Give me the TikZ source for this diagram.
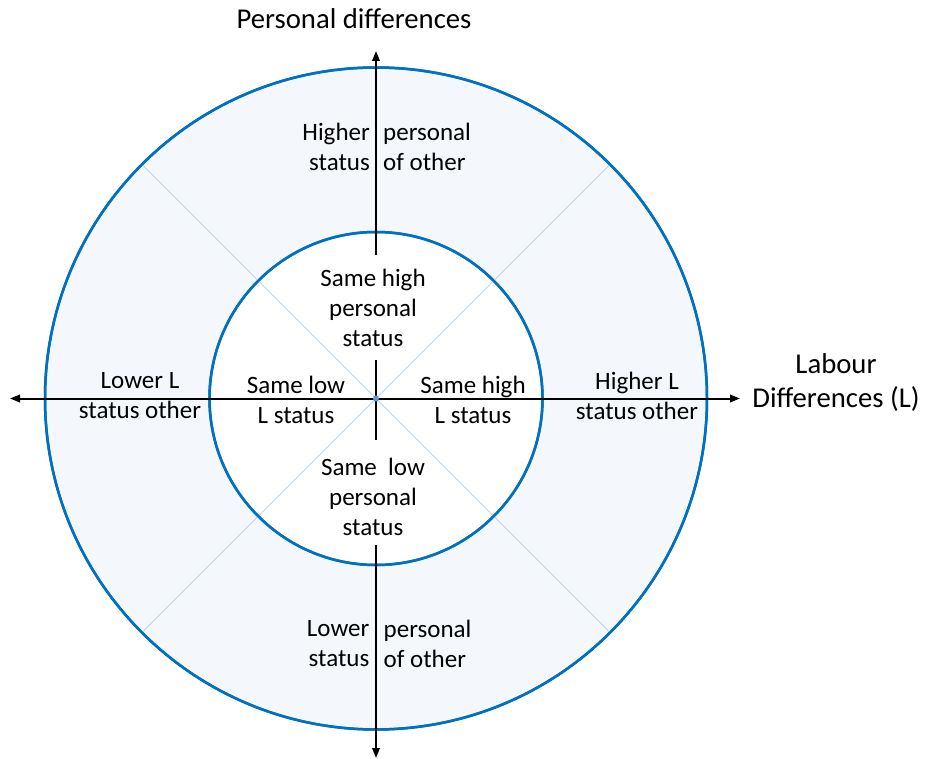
\documentclass[tikz,border=0pt]{standalone}
\usepackage{fontspec}
\setmainfont{Carlito}
\usetikzlibrary{arrows.meta}
\definecolor{ringblue}{HTML}{0070C0}
\definecolor{ringfill}{HTML}{F4F8FC}
\definecolor{diagblue}{HTML}{BDD7EE}
\definecolor{dotblue}{HTML}{5B9BD5}
\begin{document}
\begin{tikzpicture}[x=1pt,y=-1pt,
  lbl/.style={font=\fontsize{25}{30}\selectfont, align=center, inner sep=0pt, text=black},
  biglbl/.style={font=\fontsize{28.7}{34}\selectfont, align=center, inner sep=0pt, text=black},
  leftpart/.style={font=\fontsize{25}{30}\selectfont, align=right, inner sep=0pt, text=black, anchor=east},
  rightpart/.style={font=\fontsize{25}{30}\selectfont, align=left, inner sep=0pt, text=black, anchor=west},
  axis/.style={draw=black, line width=2pt},
  axisarrow/.style={axis, -{Triangle[length=10pt,width=7.5pt]}},
  ring/.style={circle, draw=ringblue, line width=2.5pt, inner sep=0pt},
  diag/.style={draw=diagblue, line width=0.8pt}]
\useasboundingbox (0,0) rectangle (929,759);
% circles
\node[ring, fill=ringfill, minimum size=662pt] (outer) at (376,398.5) {};
\node[ring, fill=white, minimum size=333pt] (inner) at (376,398.5) {};
% diagonals
\draw[diag] (outer.45) -- (outer.225);
\draw[diag] (outer.135) -- (outer.315);
% redraw circle strokes on top of diagonals
\node[ring, minimum size=662pt] (outerline) at (376,398.5) {};
\node[ring, minimum size=333pt] (innerline) at (376,398.5) {};
% axis coordinates
\coordinate (left) at (10,398.5);
\coordinate (right) at (740,398.5);
\coordinate (top) at (376,51);
\coordinate (topstart) at (376,255);
\coordinate (bottom) at (376,758);
\coordinate (bottomstart) at (376,545);
\coordinate (cup) at (376,360);
\coordinate (cdown) at (376,440);
% axes
\draw[axisarrow] (inner.center) -- (left);
\draw[axisarrow] (inner.center) -- (right);
\draw[axisarrow] (topstart) -- (top);
\draw[axisarrow] (bottomstart) -- (bottom);
\draw[axis] (cup) -- (cdown);
\node[circle, fill=dotblue, inner sep=0pt, minimum size=6pt] (dot) at (376,398.5) {};
% labels
\node[biglbl] (pd) at (354,19) {Personal differences};
\node[biglbl] (ld) at (836,383) {Labour\\Differences (L)};
\node[leftpart] (hpl) at (370,147) {Higher\\status};
\node[rightpart] (hpr) at (383,147) {personal\\of other};
\node[leftpart] (lpl) at (369.5,644) {Lower\\status};
\node[rightpart] (lpr) at (383.5,644) {personal\\of other};
\node[lbl] (shp) at (373,308) {Same high\\personal\\status};
\node[lbl] (slp) at (373,497) {Same\ \ low\\personal\\status};
\node[lbl] (sll) at (296,399.5) {Same low\\L status};
\node[lbl] (shl) at (473,399.5) {Same high\\L status};
\node[lbl] (lls) at (140,396) {Lower L\\status other};
\node[lbl] (hls) at (637,396) {Higher L\\status other};
\end{tikzpicture}
\end{document}
